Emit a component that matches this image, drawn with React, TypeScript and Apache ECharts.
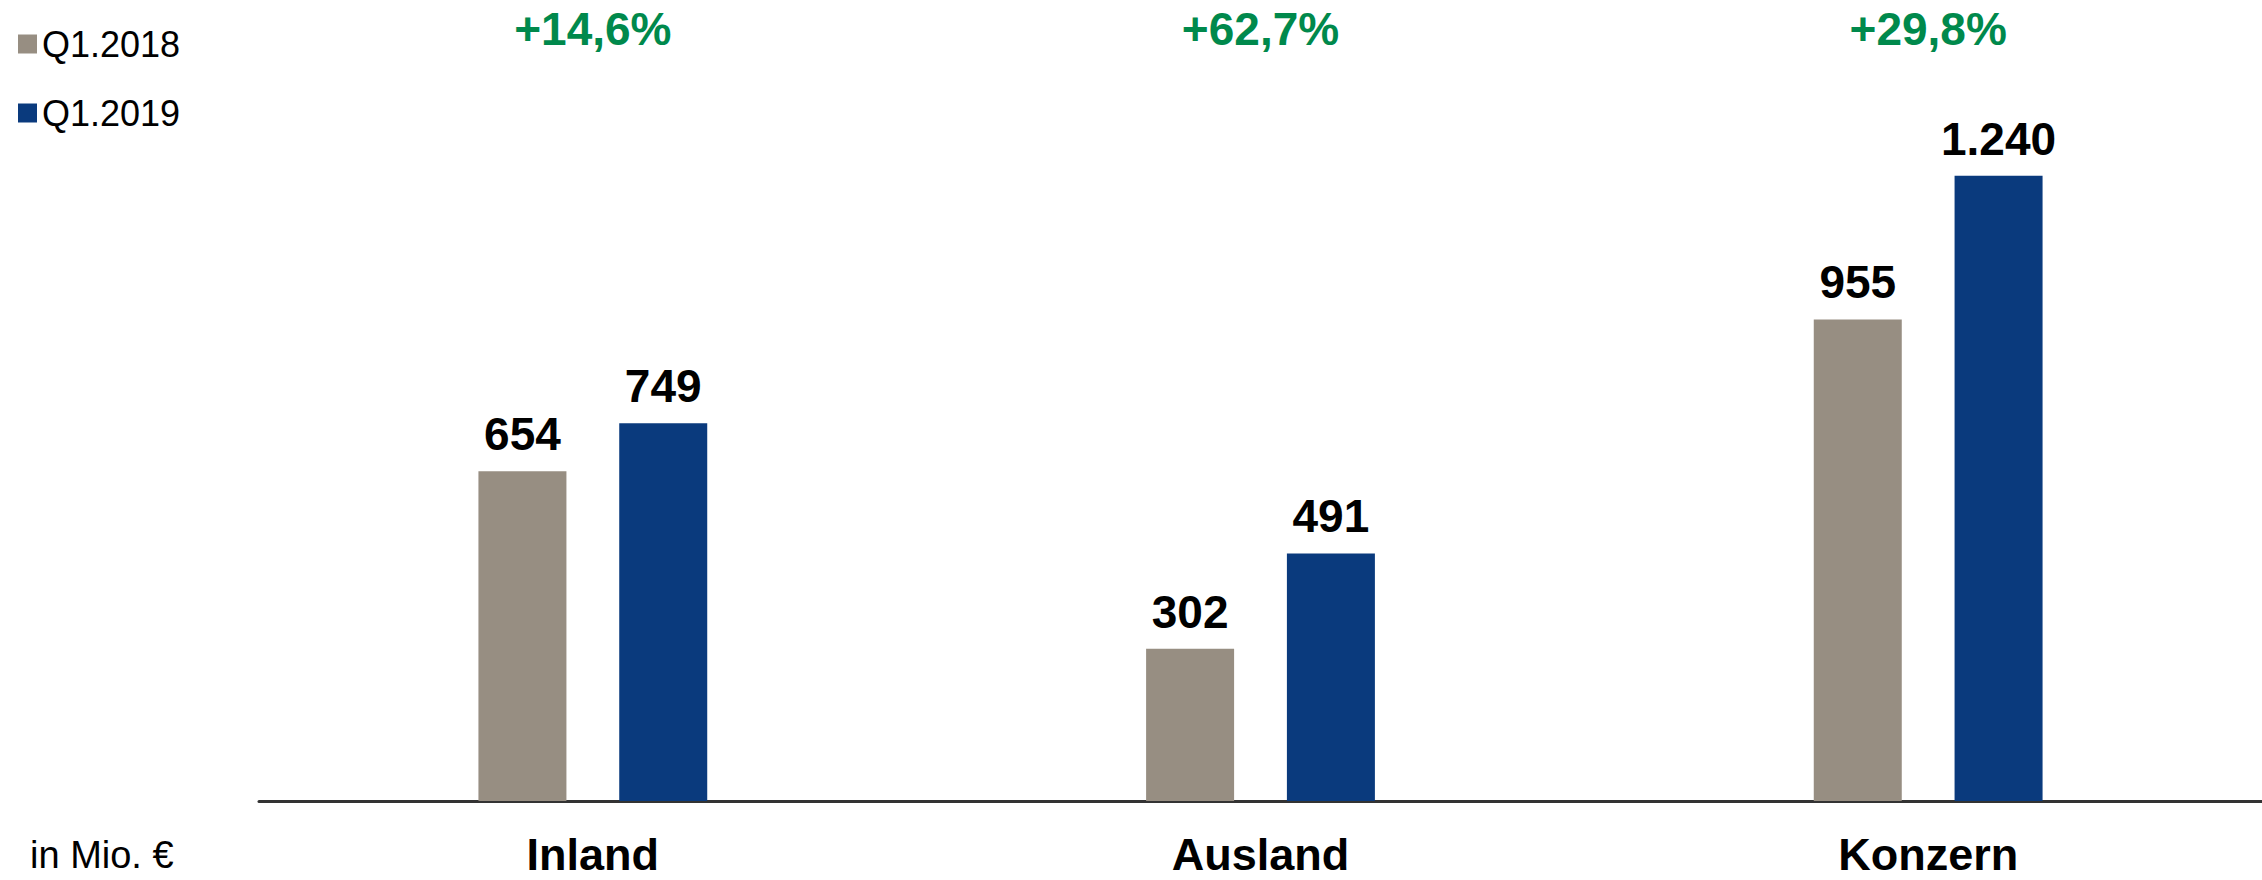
import React, { useEffect, useRef } from "react";
import * as echarts from "echarts";

const categories = ["Inland", "Ausland", "Konzern"];
const seriesNames = ["Q1.2018", "Q1.2019"];
const values2018 = [654, 302, 955];
const values2019 = [749, 491, 1240];
const growthLabels = ["+14,6%", "+62,7%", "+29,8%"];
const unitLabel = "in Mio. €";

const GRAY = "#978E82";
const BLUE = "#0A3A7D";
const GREEN = "#00894C";
const FONT = "'Liberation Sans', Arial, sans-serif";

const fmt = (v: number) => v.toLocaleString("de-DE");

export default function App() {
  const ref = useRef<HTMLDivElement>(null);
  useEffect(() => {
    if (!ref.current) return;
    const chart = echarts.init(ref.current, null, { renderer: "svg" });
    chart.setOption({
      animation: false,
      backgroundColor: "#ffffff",
      textStyle: { fontFamily: FONT },
      legend: {
        data: seriesNames,
        orient: "vertical",
        left: 13,
        top: 21,
        itemWidth: 19,
        itemHeight: 19,
        itemGap: 33,
        icon: "rect",
        textStyle: { fontSize: 36, color: "#000", lineHeight: 36, fontFamily: FONT },
      },
      grid: { left: 259, right: 0, top: 95, bottom: 79, containLabel: false },
      xAxis: [
        {
          type: "category",
          data: categories,
          position: "bottom",
          axisLine: { show: true, lineStyle: { color: "#333333", width: 3 } },
          axisTick: { show: false },
          axisLabel: {
            fontSize: 45,
            fontWeight: "bold",
            color: "#000",
            lineHeight: 40,
            margin: 33,
            fontFamily: FONT,
          },
        },
        {
          type: "category",
          data: growthLabels,
          position: "top",
          axisLine: { show: false },
          axisTick: { show: false },
          axisLabel: {
            fontSize: 46,
            fontWeight: "bold",
            color: GREEN,
            lineHeight: 46,
            margin: 43,
            fontFamily: FONT,
          },
        },
      ],
      yAxis: {
        type: "value",
        min: 0,
        max: 1400,
        show: false,
        splitLine: { show: false },
      },
      series: [
        {
          name: seriesNames[0],
          type: "bar",
          data: values2018,
          barWidth: 88,
          barGap: "60%",
          itemStyle: { color: GRAY },
          label: {
            show: true,
            position: "top",
            distance: 14,
            fontSize: 46,
            fontWeight: "bold",
            color: "#000",
            fontFamily: FONT,
            formatter: (p: any) => fmt(p.value),
          },
        },
        {
          name: seriesNames[1],
          type: "bar",
          data: values2019,
          barWidth: 88,
          barGap: "60%",
          itemStyle: { color: BLUE },
          label: {
            show: true,
            position: "top",
            distance: 14,
            fontSize: 46,
            fontWeight: "bold",
            color: "#000",
            fontFamily: FONT,
            formatter: (p: any) => fmt(p.value),
          },
        },
      ],
      graphic: [
        {
          type: "text",
          left: 30,
          top: 836,
          style: { text: unitLabel, fontSize: 38, fill: "#000", fontFamily: FONT },
        },
      ],
    });
    return () => chart.dispose();
  }, []);
  return <div ref={ref} style={{ width: 2262, height: 880, position: "absolute", left: 0, top: 0 }} />;
}
